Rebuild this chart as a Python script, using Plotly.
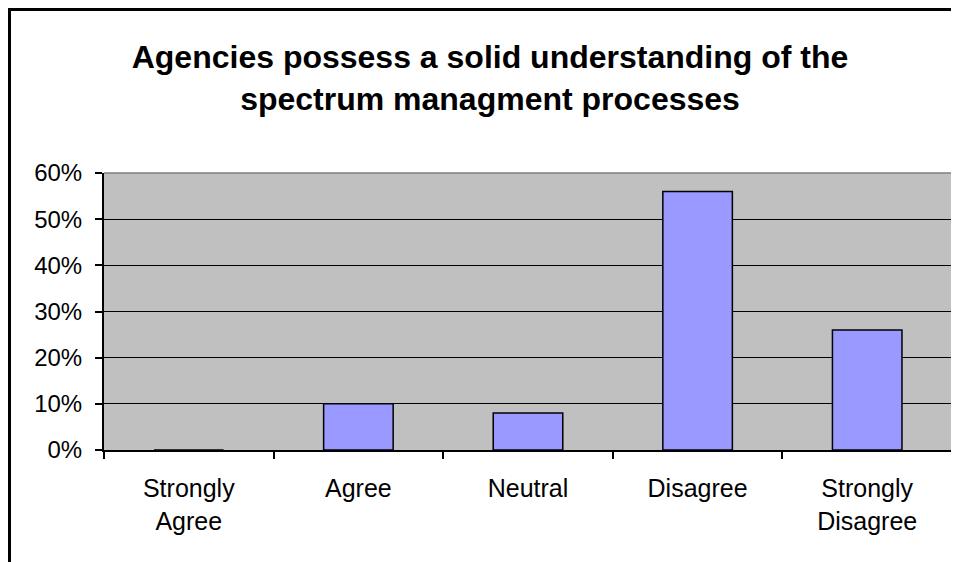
import plotly.graph_objects as go

categories = ["Strongly<br>Agree", "Agree", "Neutral", "Disagree", "Strongly<br>Disagree"]
shares = [0.0, 0.10, 0.08, 0.56, 0.26]
y_ticks = [0.0, 0.1, 0.2, 0.3, 0.4, 0.5, 0.6]
title_text = "Agencies possess a solid understanding of the<br>spectrum managment processes"

BAR = "#9999FF"
PLOT_BG = "#C0C0C0"
FONT = "Liberation Sans, Arial, sans-serif"

# the page puts the figure 8px in from the top left corner
W, H = 951, 554
L, R, T, B = 96, 7, 165, 112
plot_w = W - L - R
plot_h = H - T - B

fig = go.Figure()
fig.add_trace(
    go.Bar(
        x=categories,
        y=shares,
        marker={"color": BAR, "line": {"color": "black", "width": 1.5}},
        hoverinfo="x+y",
    )
)

# outer chart frame (left and top edge only, the rest is cropped)
fx = (1.5 - L) / plot_w
fy = (H - B - 1.5) / plot_h
fig.add_shape(
    type="path",
    xref="paper",
    yref="paper",
    path=f"M {fx},-1 L {fx},{fy} L 1.2,{fy}",
    line={"color": "black", "width": 3},
)
# grey top / right border of the plot area
fig.add_shape(
    type="path",
    xref="paper",
    yref="paper",
    path="M 0,1 L 1,1 L 1,0",
    line={"color": "#808080", "width": 1.5},
)

fig.update_layout(
    width=W,
    height=H,
    margin={"l": L, "r": R, "t": T, "b": B},
    paper_bgcolor="white",
    plot_bgcolor=PLOT_BG,
    font={"family": FONT, "color": "black", "size": 24},
    showlegend=False,
    bargap=0.59,
    title={
        "text": title_text,
        "font": {"family": FONT, "size": 32, "color": "black", "weight": "bold"},
        "x": 482 / W,
        "xref": "container",
        "xanchor": "center",
        "y": 1 - 60 / H,
        "yref": "container",
        "yanchor": "middle",
    },
)
fig.update_xaxes(
    showline=True,
    linecolor="black",
    linewidth=2,
    ticks="outside",
    tickson="boundaries",
    ticklen=7,
    tickwidth=2,
    tickcolor="black",
    showgrid=False,
    ticklabelstandoff=15,
    tickfont={"size": 25},
)
fig.update_yaxes(
    range=[0, 0.6],
    tickvals=y_ticks,
    tickformat=".0%",
    showline=True,
    linecolor="black",
    linewidth=2,
    ticks="outside",
    ticklen=7,
    tickwidth=2,
    tickcolor="black",
    showgrid=True,
    gridcolor="black",
    gridwidth=1,
    zeroline=False,
    ticklabelstandoff=8,
    tickfont={"size": 24},
)

fig.write_html("out.html")
